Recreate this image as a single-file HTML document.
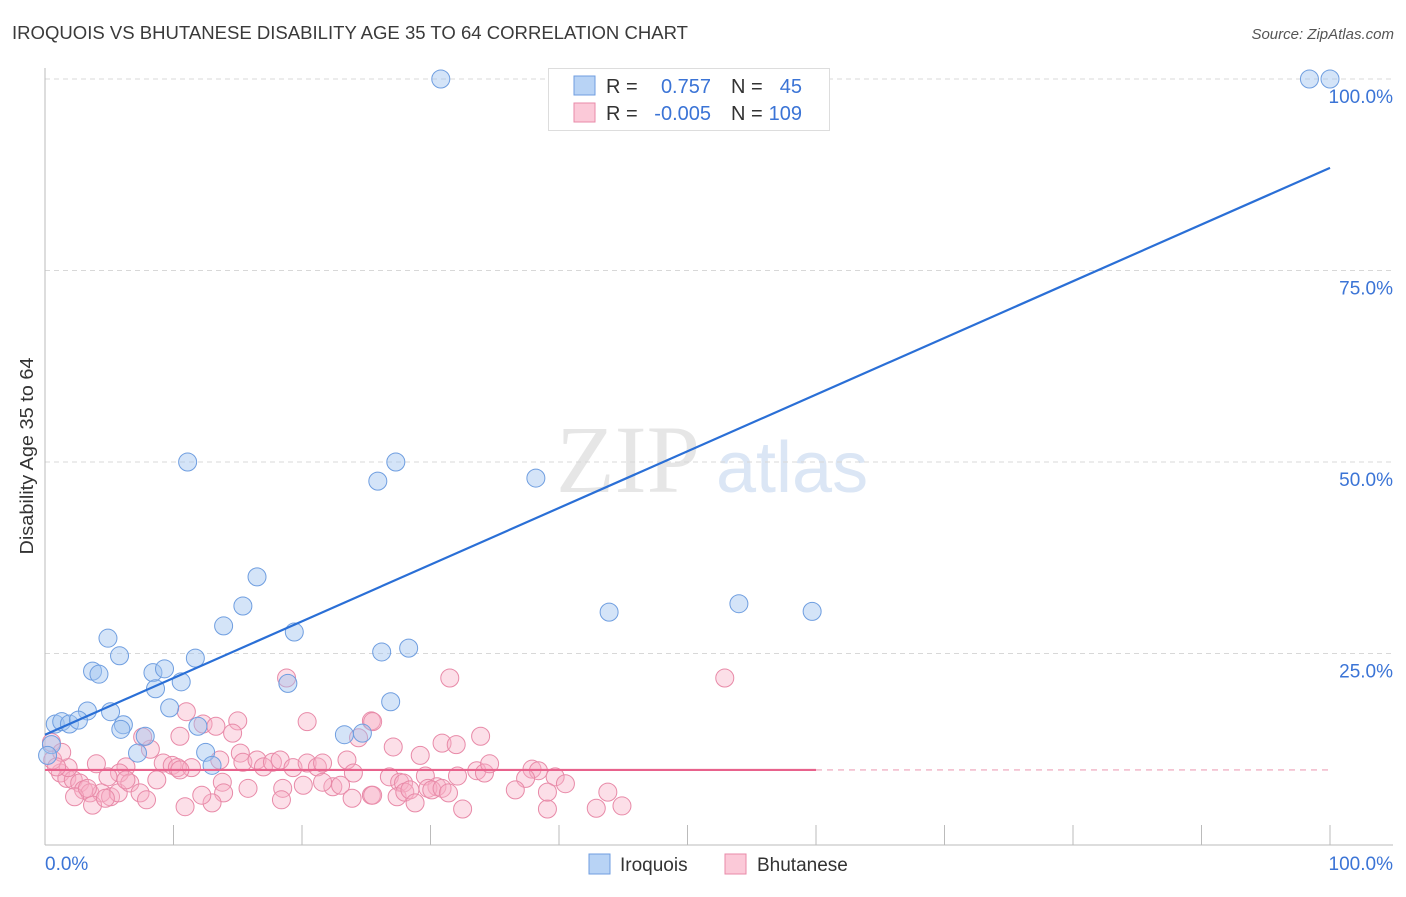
<!DOCTYPE html>
<html><head><meta charset="utf-8"><style>
body{margin:0;background:#fff;font-family:"Liberation Sans",sans-serif;}
</style></head><body>
<svg id="c" width="1406" height="892" xmlns="http://www.w3.org/2000/svg">
<text x="12" y="39" font-size="18" fill="#3a3a3a" textLength="676" lengthAdjust="spacingAndGlyphs">IROQUOIS VS BHUTANESE DISABILITY AGE 35 TO 64 CORRELATION CHART</text>
<text x="1394" y="39" font-size="15" fill="#555" font-style="italic" text-anchor="end">Source: ZipAtlas.com</text>
<text x="33" y="456" font-size="18" fill="#333" text-anchor="middle" textLength="197" lengthAdjust="spacingAndGlyphs" transform="rotate(-90 33 456)">Disability Age 35 to 64</text>
<text x="556" y="492" font-size="96" fill="#e6e6e6" font-family="Liberation Serif,serif">ZIP</text>
<text x="716" y="492" font-size="72" fill="#dbe6f5">atlas</text>
<g id="grid"></g>
<g id="pts"></g>
<g id="lines"></g>
<g>
<rect x="548.5" y="68.5" width="281" height="62" fill="#fff" stroke="#ddd"/>
<rect x="574" y="76" width="21" height="19" fill="#b8d3f5" stroke="#6f9ee0"/>
<rect x="574" y="103" width="21" height="19" fill="#fbc9d8" stroke="#e88aa8"/>
<text x="606" y="93" font-size="20" fill="#333">R =</text>
<text x="711" y="93" font-size="20" fill="#3b74d6" text-anchor="end">0.757</text>
<text x="731" y="93" font-size="20" fill="#333">N =</text>
<text x="802" y="93" font-size="20" fill="#3b74d6" text-anchor="end">45</text>
<text x="606" y="120" font-size="20" fill="#333">R =</text>
<text x="711" y="120" font-size="20" fill="#3b74d6" text-anchor="end">-0.005</text>
<text x="731" y="120" font-size="20" fill="#333">N =</text>
<text x="802" y="120" font-size="20" fill="#3b74d6" text-anchor="end">109</text>
</g>
<g>
<rect x="589" y="854" width="21" height="20" fill="#b8d3f5" stroke="#6f9ee0"/>
<text x="620" y="871" font-size="19" fill="#333">Iroquois</text>
<rect x="725" y="854" width="21" height="20" fill="#fbc9d8" stroke="#e88aa8"/>
<text x="757" y="871" font-size="19" fill="#333">Bhutanese</text>
</g>
</svg>
<script>
const blueX=[30.8,98.4,100,11.1,27.3,25.9,38.2,16.5,15.4,43.9,54.0,59.7,13.9,19.4,4.9,5.8,26.2,28.3,3.7,4.2,8.4,9.3,11.7,8.6,10.6,18.9,26.9,3.3,5.1,9.7,0.8,1.3,1.9,2.6,6.1,5.9,11.9,7.8,23.3,24.7,7.2,12.5,13.0,0.5,0.2];
const blueY=[100,100,100,50.0,50.0,47.5,47.9,35.0,31.2,30.4,31.5,30.5,28.6,27.8,27.0,24.7,25.2,25.7,22.7,22.3,22.5,23.0,24.4,20.4,21.3,21.1,18.7,17.5,17.4,17.9,15.8,16.1,15.8,16.3,15.7,15.1,15.5,14.2,14.4,14.6,12.0,12.1,10.4,13.1,11.7];
const pinkX=[18.8,11.0,12.3,13.3,15.0,14.6,10.5,20.4,25.4,24.4,8.2,7.6,4.0,6.3,5.8,9.2,9.9,10.3,11.4,13.6,15.2,15.4,16.5,17.0,17.7,18.3,19.3,20.4,21.2,21.6,23.5,24.0,1.2,1.7,2.2,2.7,3.0,3.5,4.4,5.1,5.7,6.6,7.4,7.9,3.7,4.7,8.7,13.8,13.9,13.0,12.2,10.9,15.8,18.5,20.1,22.4,23.0,25.4,0.6,0.5,31.5,52.9,25.5,27.1,29.2,30.9,32.0,33.9,26.8,27.6,27.9,29.6,30.5,32.1,33.6,34.2,34.6,27.4,28.0,28.4,28.8,29.8,30.1,30.9,31.4,37.9,38.4,39.7,40.5,32.5,39.1,42.9,43.8,44.9,25.5,1.8,2.3,6.3,10.5,21.6,18.4,23.9,37.4,36.6,39.1,1.3,0.9,3.3,4.9];
const pinkY=[21.8,17.4,15.8,15.5,16.2,14.6,14.2,16.1,16.2,14.0,12.5,14.1,10.6,10.2,9.4,10.7,10.4,10.1,10.1,11.1,12.0,10.8,11.1,10.2,10.8,11.1,10.1,10.7,10.2,10.7,11.1,9.4,9.4,8.7,8.5,8.1,7.2,6.8,6.8,6.3,6.8,8.1,6.8,5.9,5.2,6.1,8.5,8.2,6.8,5.5,6.5,5.0,7.4,7.4,7.8,7.6,7.8,6.5,11.1,13.4,21.8,21.8,16.1,12.8,11.7,13.3,13.1,14.2,8.9,8.2,8.1,9.0,7.6,9.0,9.7,9.4,10.6,6.3,6.9,7.2,5.5,7.4,7.2,7.4,6.8,9.9,9.7,8.9,8.0,4.7,4.7,4.8,6.9,5.1,6.5,10.1,6.3,8.5,9.8,8.2,5.9,6.1,8.7,7.2,6.9,12.1,10.2,7.4,8.9];
const blueTrend=[14.4,88.4];
const pinkTrend=[9.8,9.8];
const yTicks=[25,50,75,100];
const yTickLabels=["25.0%","50.0%","75.0%","100.0%"];
const xTicks=[0,10,20,30,40,50,60,70,80,90,100];
const NS="http://www.w3.org/2000/svg";
const sx=v=>45+v*12.85, sy=v=>845-v*7.66;
function mk(tag,attrs,parent){const e=document.createElementNS(NS,tag);for(const k in attrs)e.setAttribute(k,attrs[k]);parent.appendChild(e);return e;}
const grid=document.getElementById('grid');
yTicks.forEach((t,i)=>{
  const l=mk('line',{x1:45,x2:1393,y1:sy(t),y2:sy(t),stroke:'#d8d8d8','stroke-dasharray':'5,4'},grid);
  
  
  const tx=mk('text',{x:1393,y:sy(t)+24,'font-size':19,fill:'#3b74d6','text-anchor':'end'},grid);
  tx.textContent=yTickLabels[i];
  
  
});
const ax=mk('line',{x1:45,x2:1393,y1:845,y2:845,stroke:'#bbb'},grid);


const ay=mk('line',{x1:45,x2:45,y1:68,y2:845,stroke:'#bbb'},grid);


xTicks.forEach(t=>{
  const l=mk('line',{x1:sx(t),x2:sx(t),y1:825,y2:845,stroke:'#bbb'},grid);
  
  
});
const x0=mk('text',{x:45,y:870,'font-size':19,fill:'#3b74d6'},grid);x0.textContent='0.0%';


const x1=mk('text',{x:1393,y:870,'font-size':19,fill:'#3b74d6','text-anchor':'end'},grid);x1.textContent='100.0%';


const pts=document.getElementById('pts');
pinkX.forEach((x,i)=>{
  const c=mk('circle',{cx:sx(x),cy:sy(pinkY[i]),r:9,fill:'rgba(248,175,198,0.4)',stroke:'#e88aa8','stroke-width':1},pts);
  
  
});
blueX.forEach((x,i)=>{
  const c=mk('circle',{cx:sx(x),cy:sy(blueY[i]),r:9,fill:'rgba(160,195,240,0.45)',stroke:'#6f9ee0','stroke-width':1},pts);
  
  
});
const lines=document.getElementById('lines');
const bl=mk('line',{x1:sx(0),y1:sy(blueTrend[0]),x2:sx(100),y2:sy(blueTrend[1]),stroke:'#2a6fd6','stroke-width':2.2},lines);


const pl=mk('line',{x1:sx(0),y1:sy(pinkTrend[0]),x2:sx(60),y2:sy(pinkTrend[0]+(pinkTrend[1]-pinkTrend[0])*0.6),stroke:'#e8628c','stroke-width':2.2},lines);


const pd=mk('line',{x1:sx(60),y1:sy(pinkTrend[0]+(pinkTrend[1]-pinkTrend[0])*0.6),x2:sx(100),y2:sy(pinkTrend[1]),stroke:'#eea0b8','stroke-width':1.2,'stroke-dasharray':'6,5'},lines);


</script>
</body></html>
